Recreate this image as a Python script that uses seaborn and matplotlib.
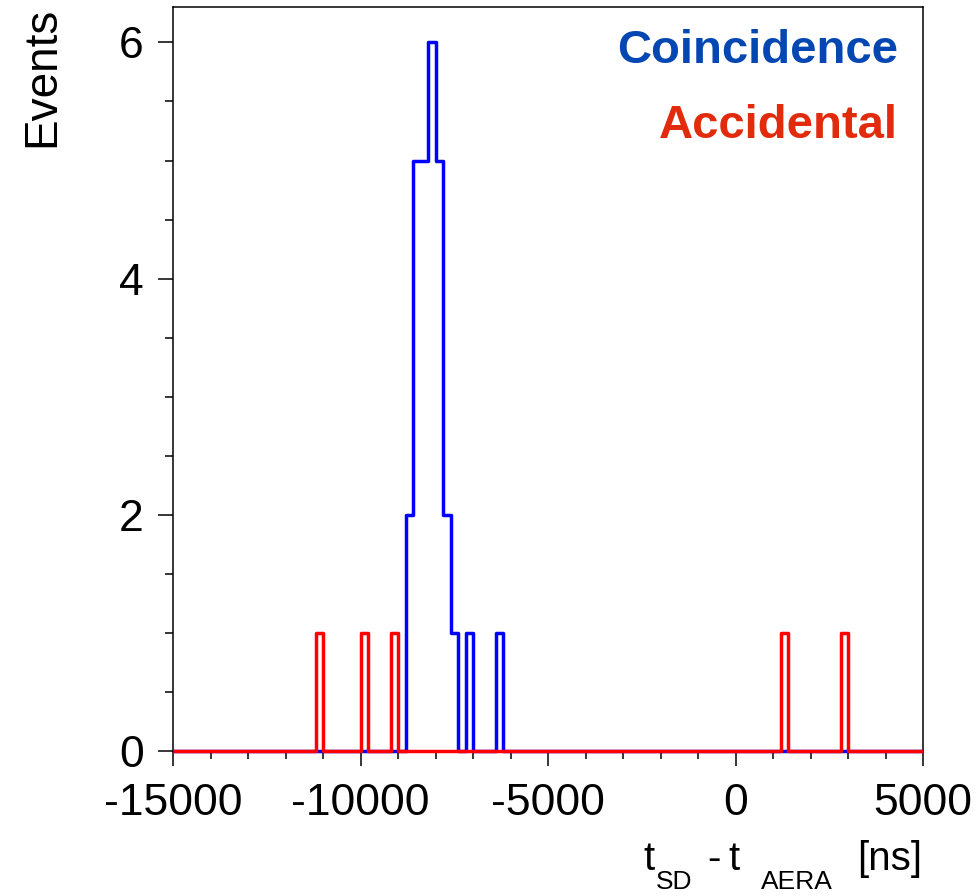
import numpy as np
import pandas as pd
import matplotlib
matplotlib.use("Agg")
import matplotlib.pyplot as plt
import seaborn as sns
from matplotlib.ticker import MultipleLocator

# ---- data (bin left edges in ns, counts) ----
bin_width = 200
x_range = [-15000, 5000]
coinc_bins = [-8800, -8600, -8400, -8200, -8000, -7800, -7600, -7200, -6400]
coinc_counts = [2, 5, 5, 6, 5, 2, 1, 1, 1]
accid_bins = [-11200, -10000, -9200, 1200, 2800]
accid_counts = [1, 1, 1, 1, 1]
x_ticks = [-15000, -10000, -5000, 0, 5000]
y_ticks = [0, 2, 4, 6]

sns.set_theme(style="white")
plt.rcParams["font.family"] = ["Liberation Sans", "DejaVu Sans"]
plt.rcParams["axes.unicode_minus"] = False
plt.rcParams["text.color"] = "black"
plt.rcParams["axes.labelcolor"] = "black"
plt.rcParams["xtick.color"] = "black"
plt.rcParams["ytick.color"] = "black"

df_c = pd.DataFrame({"t": np.array(coinc_bins) + bin_width / 2, "n": coinc_counts})
df_a = pd.DataFrame({"t": np.array(accid_bins) + bin_width / 2, "n": accid_counts})

W, H = 979, 896
fig = plt.figure(figsize=(W / 100, H / 100), dpi=100)
ax = fig.add_axes([173 / W, 1 - 751 / H, 750 / W, 744 / H])

sns.histplot(data=df_c, x="t", weights="n", binwidth=bin_width, binrange=tuple(x_range),
             element="step", fill=False, color="#0000FF", linewidth=2.5, ax=ax)
n_before = len(ax.lines)
sns.histplot(data=df_a, x="t", weights="n", binwidth=bin_width, binrange=tuple(x_range),
             element="step", fill=False, color="#FF0000", linewidth=2.5, ax=ax)
for i, ln in enumerate(ax.lines):
    ln.set_clip_on(False)
    ln.set_zorder(3 if i < n_before else 3.1)
    ln.set_solid_capstyle("butt")

ax.set_xlim(x_range)
ax.set_ylim(0, 6.3)
ax.set_xticks(x_ticks)
ax.set_yticks(y_ticks)
ax.xaxis.set_minor_locator(MultipleLocator(1000))
ax.yaxis.set_minor_locator(MultipleLocator(0.5))
ax.tick_params(axis="both", which="major", direction="out", length=11, width=1.1,
               labelsize=32, color="black", labelcolor="black",
               bottom=True, left=True)
ax.tick_params(axis="both", which="minor", direction="out", length=5.5, width=1.1,
               color="black", bottom=True, left=True)
ax.tick_params(axis="y", which="major", pad=10)
ax.tick_params(axis="x", which="major", pad=12)
for s in ax.spines.values():
    s.set_visible(True)
    s.set_color("black")
    s.set_linewidth(1.1)

ax.set_xlabel("")
ax.set_ylabel("Events", fontsize=33, loc="top", color="black")
ax.yaxis.set_label_coords(-0.145, 1.0)

# x-axis title built from pieces: (text, left pixel, baseline pixel, size)
label_pieces = [("t", 643, 870, 29), ("SD", 656, 889, 19), ("-", 707, 870, 29),
                ("t", 728, 870, 29), ("AERA", 761, 889, 19), ("[ns]", 857, 870, 29)]
for txt, px, py, fs in label_pieces:
    fig.text(px / W, 1 - py / H, txt, ha="left", va="baseline", fontsize=fs, color="black")

ax.text((898 - 173) / 750, (751 - 63) / 744, "Coincidence", transform=ax.transAxes,
        ha="right", va="baseline", fontsize=34, fontweight="bold", color="#0547B2")
ax.text((898 - 173) / 750, (751 - 138) / 744, "Accidental", transform=ax.transAxes,
        ha="right", va="baseline", fontsize=34, fontweight="bold", color="#E22B0C")

fig.savefig("out.png", dpi=100)
